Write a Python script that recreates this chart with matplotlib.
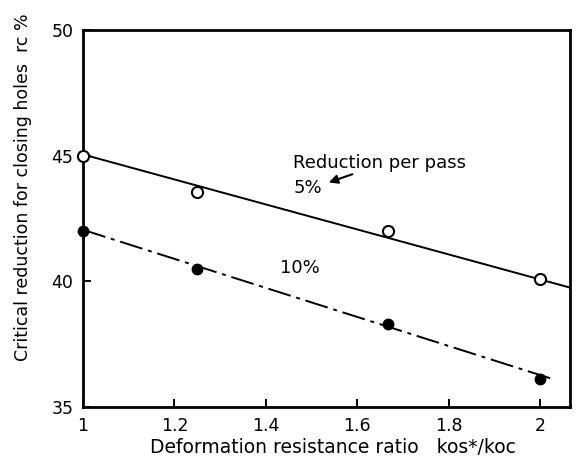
import numpy as np
import matplotlib
matplotlib.use("Agg")
import matplotlib.pyplot as plt

# data
ratio = [1.0, 1.25, 1.667, 2.0]
rc_5 = [45.0, 43.55, 42.0, 40.1]
rc_10 = [42.0, 40.5, 38.3, 36.1]

# fitted lines as drawn in the original
fit5_x = [1.0, 2.066]
fit5_y = [45.05, 39.75]
fit10_x = [1.0, 2.03]
fit10_y = [42.05, 36.1]

x_ticks = [1, 1.2, 1.4, 1.6, 1.8, 2]
x_labels = ["1", "1.2", "1.4", "1.6", "1.8", "2"]
y_ticks = [35, 40, 45, 50]

plt.rcParams['font.family'] = ['DejaVu Sans']

fig = plt.figure(figsize=(5.77, 4.63), dpi=100)
ax = fig.add_axes([0.144, 0.121, 0.844, 0.814])

ax.plot(fit5_x, fit5_y, color="black", lw=1.4)
ax.plot(fit10_x, fit10_y, color="black", lw=1.4, dashes=(12, 3, 2, 3))

ax.plot(ratio, rc_5, "o", ms=8, mfc="white", mec="black", mew=1.5, clip_on=False, zorder=5)
ax.plot(ratio, rc_10, "o", ms=7.5, mfc="black", mec="black", clip_on=False, zorder=5)

# annotations
ax.text(1.46, 44.51, "Reduction per pass", fontsize=13, va="baseline")
ax.text(1.46, 43.51, "5%", fontsize=13, va="baseline")
ax.annotate("", xy=(1.532, 43.9), xytext=(1.595, 44.3),
            arrowprops=dict(arrowstyle="-|>", color="black", lw=1.5, mutation_scale=13))
ax.text(1.431, 40.33, "10%", fontsize=13, va="baseline")

ax.set_xlim(1, 2.066)
ax.set_ylim(35, 50)
ax.set_xticks(x_ticks)
ax.set_xticklabels(x_labels)
ax.set_yticks(y_ticks)
ax.tick_params(direction="in", length=6, width=1.4, labelsize=12.5)
ax.tick_params(axis="x", pad=7)
ax.tick_params(axis="y", pad=7)

for s in ax.spines.values():
    s.set_linewidth(2)

ax.set_xlabel("Deformation resistance ratio   kos*/koc", fontsize=13.5)
ax.set_ylabel("Critical reduction for closing holes  rc %", fontsize=12.5)
ax.xaxis.set_label_coords(0.513, -0.083)
ax.yaxis.set_label_coords(-0.105, 0.584)

fig.savefig("out.png", dpi=100)
